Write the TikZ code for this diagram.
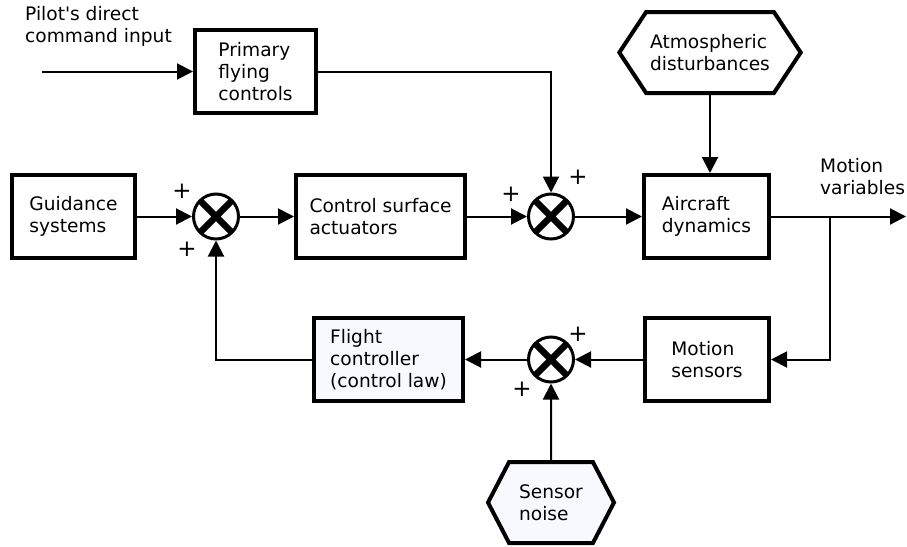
\documentclass[tikz,border=0pt]{standalone}
\usepackage{fontspec}
\setmainfont{DejaVu Sans}[Ligatures=TeXOff]
\usepackage{tikz}
\usetikzlibrary{shapes.symbols, arrows.meta, positioning, calc}
\definecolor{mydark}{RGB}{0,0,0}
\definecolor{mypale}{RGB}{248,249,255}
\tikzset{
  block/.style={rectangle, draw=mydark, fill=white, align=left, minimum height=83pt,
    inner sep=4pt, line width=4pt, font=\fontsize{18.6}{22}\selectfont},
  arrow/.style={-{Triangle[length=16pt,width=16pt]}, line width=2pt, color=mydark},
  line/.style={line width=2pt, color=mydark}
}

\begin{document}
\begin{tikzpicture}[x=1pt, y=-1pt,
  sumj/.style={circle, draw=mydark, fill=white, line width=3pt, minimum size=45pt, inner sep=0pt,
    path picture={\draw[line width=6.5pt]
      (path picture bounding box.north west) -- (path picture bounding box.south east)
      (path picture bounding box.north east) -- (path picture bounding box.south west);}},
  hexa/.style={signal, signal to=east and west, draw=mydark, fill=white, align=left,
    minimum height=81pt, inner sep=4pt, line width=4pt, font=\fontsize{18.6}{22}\selectfont},
  lbl/.style={align=left, inner sep=0pt, font=\fontsize{18.6}{22}\selectfont},
  sgn/.style={inner sep=0pt, font=\fontsize{23}{23}\selectfont}
]
\useasboundingbox (0,0) rectangle (907,546);

% blocks
\node[block, minimum width=121pt] (prim)  at (255.5, 71.5)  {Primary\\flying\\controls};
\node[block, minimum width=123pt] (guid)  at (73.5, 216.5)  {Guidance\\systems};
\node[block, minimum width=169pt] (act)   at (380.5, 216.5) {Control surface\\actuators};
\node[block, minimum width=125pt] (air)   at (706.5, 216.5) {Aircraft\\dynamics};
\node[block, minimum width=124pt] (sens)  at (707, 359.5)   {Motion\\sensors};
\node[block, minimum width=149pt, fill=mypale] (fc) at (388.5, 359.5) {Flight\\controller\\(control law)};

% disturbance sources
\node[hexa, minimum width=174pt, signal pointer angle=113] (atm) at (710, 52.5) {Atmospheric\\disturbances};
\node[hexa, minimum width=126pt, signal pointer angle=125, fill=mypale] (noise) at (551, 502.5) {Sensor\\noise};

% summing junctions
\node[sumj] (s1) at (216, 216.5) {};
\node[sumj] (s2) at (551, 216.5) {};
\node[sumj] (s3) at (551, 359.5) {};

% free ends
\coordinate (pin) at (42, 71.5);
\coordinate (out) at (906, 216.5);
\coordinate (br)  at (830, 216.5);

% texts
\node[lbl, anchor=west] (pilot) at (25, 26.5)   {Pilot's direct\\command input};
\node[lbl, anchor=west] (mvar)  at (820, 176.5) {Motion\\variables};

% signs
\node[sgn] (p1a) at (182, 191) {+};
\node[sgn] (p1b) at (187, 249) {+};
\node[sgn] (p2a) at (511, 194) {+};
\node[sgn] (p2b) at (578, 177) {+};
\node[sgn] (p3a) at (578, 334) {+};
\node[sgn] (p3b) at (522, 389) {+};

% forward path
\draw[arrow] (pin)  -- (prim);
\draw[arrow] (prim) -| (s2);
\draw[arrow] (guid) -- (s1);
\draw[arrow] (s1)   -- (act);
\draw[arrow] (act)  -- (s2);
\draw[arrow] (s2)   -- (air);
\draw[arrow] (atm.south) -- (atm.south |- air.north);
\draw[arrow] (air)  -- (out);

% feedback path
\draw[arrow] (br)    |- (sens);
\draw[arrow] (sens)  -- (s3);
\draw[arrow] (noise) -- (s3);
\draw[arrow] (s3)    -- (fc);
\draw[arrow] (fc)    -| (s1);
\end{tikzpicture}
\end{document}
